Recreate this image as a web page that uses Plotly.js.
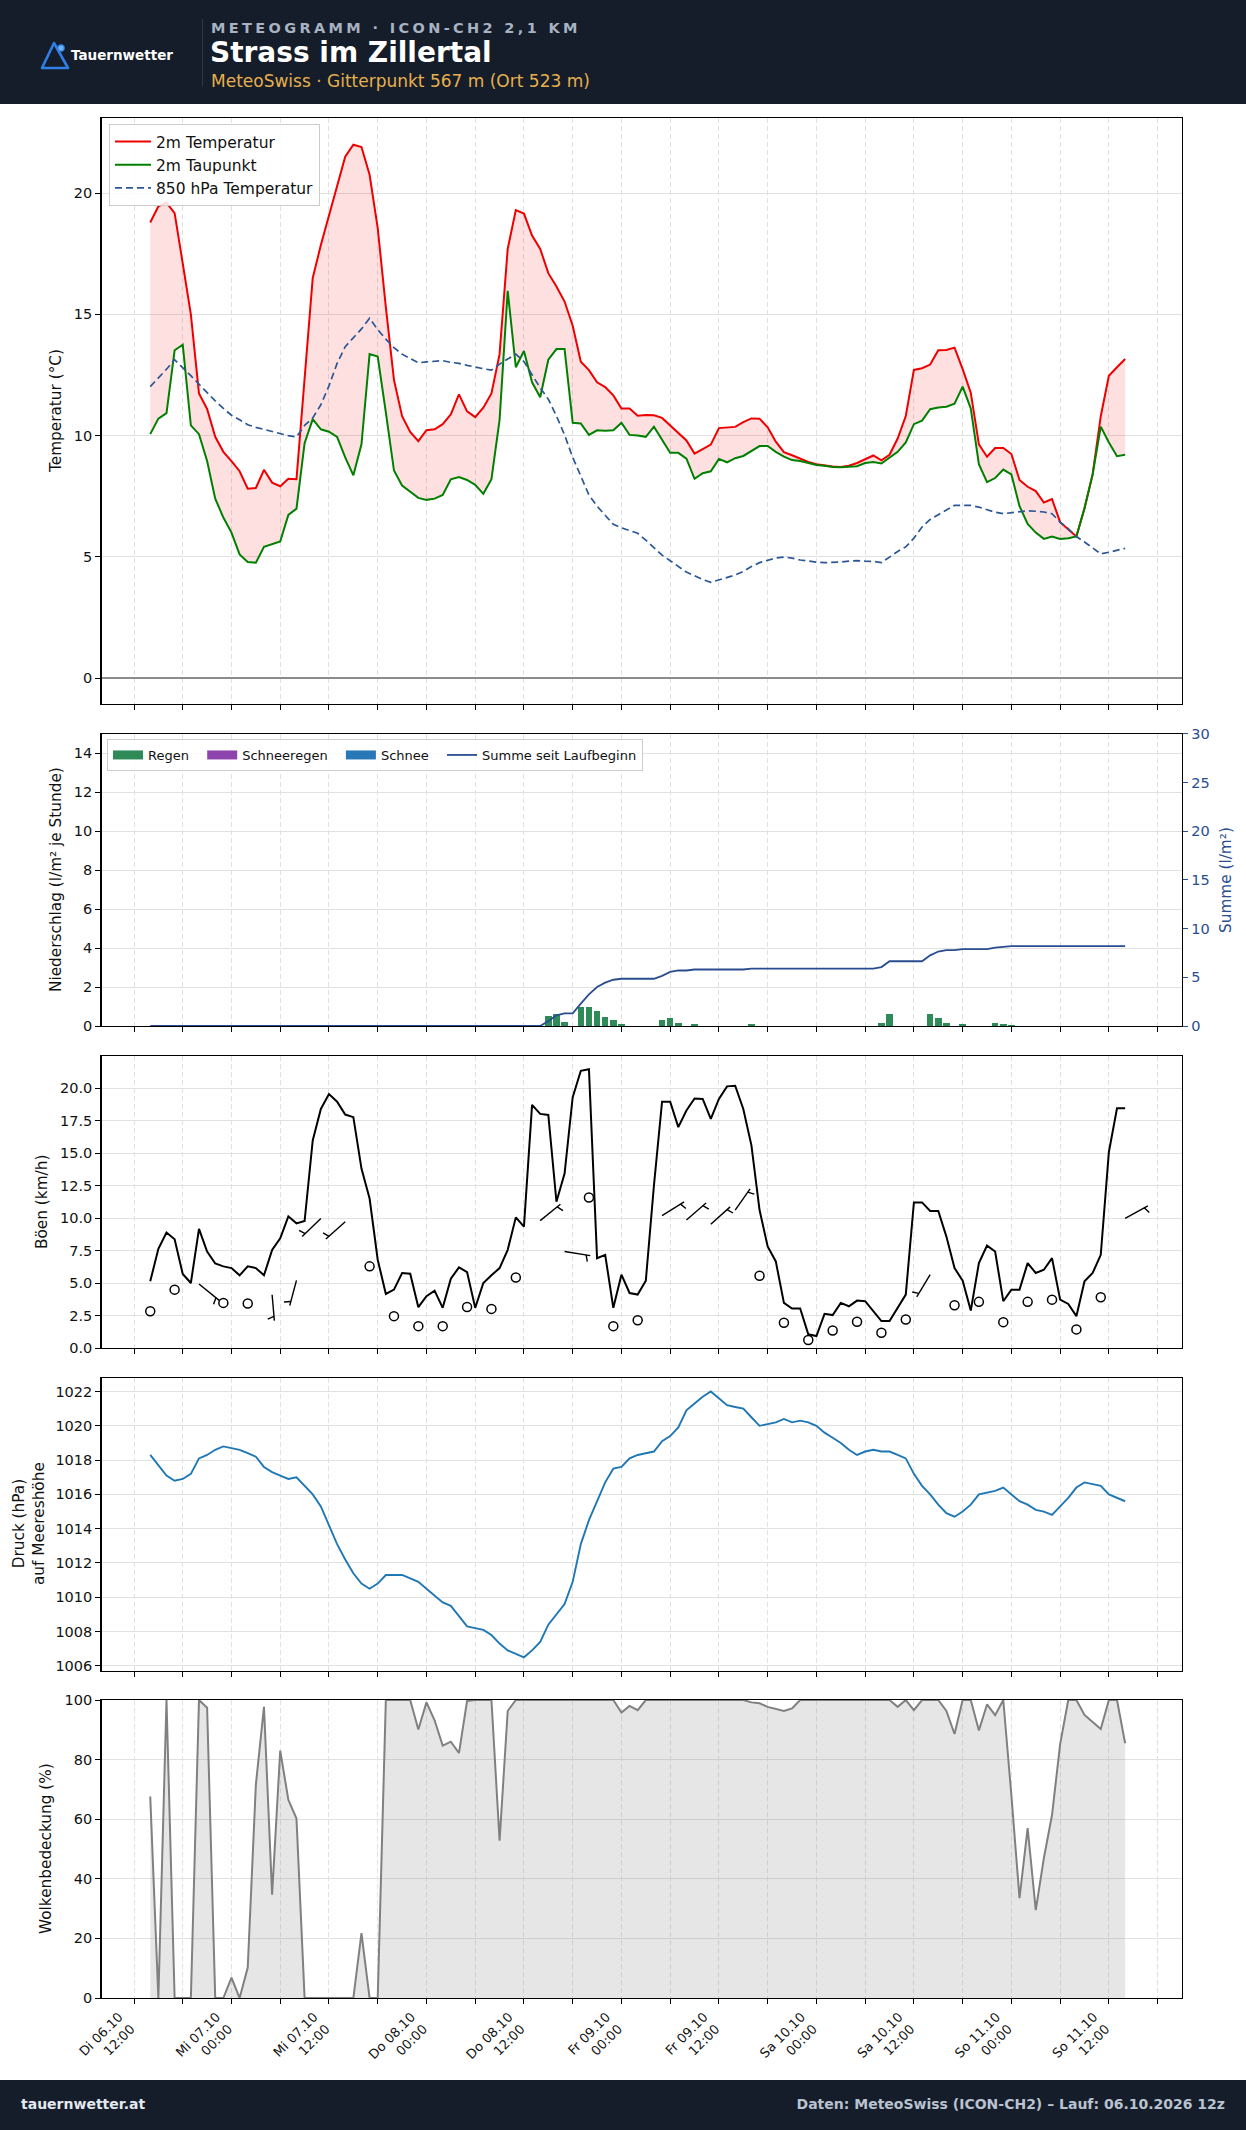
<!DOCTYPE html>
<html><head><meta charset="utf-8">
<script src="https://cdn.plot.ly/plotly-3.0.1.min.js"></script>
<style>
body{margin:0;padding:0;width:1246px;height:2130px;position:relative;background:#fff;font-family:'DejaVu Sans',sans-serif;overflow:hidden}
#plot{position:absolute;left:0;top:0;width:1246px;height:2130px}
.band{position:absolute;left:0;width:1246px;background:#151d2a;z-index:5}
.t{position:absolute;white-space:nowrap;font-family:'DejaVu Sans',sans-serif}
</style></head><body>
<div id="plot"></div>
<div class="band" style="top:0;height:104px">
  <svg style="position:absolute;left:36px;top:38px" width="40" height="34" viewBox="0 0 40 34">
    <path d="M6 30 L18 5 L32 30 Z" fill="none" stroke="#2f7fe6" stroke-width="2.6" stroke-linejoin="round"/>
    <circle cx="25" cy="10" r="3.2" fill="#6fb0f5" stroke="#2f7fe6" stroke-width="1.2"/>
  </svg>
  <div class="t" style="left:71px;top:47px;font-size:13.5px;font-weight:bold;color:#ffffff">Tauernwetter</div>
  <div style="position:absolute;left:202px;top:19px;width:1px;height:67px;background:#2c3848"></div>
  <div class="t" style="left:211px;top:20px;font-size:14.5px;font-weight:bold;letter-spacing:3.35px;color:#a7b2c2">METEOGRAMM · ICON-CH2 2,1 KM</div>
  <div class="t" style="left:210px;top:36px;font-size:28px;font-weight:bold;color:#ffffff">Strass im Zillertal</div>
  <div class="t" style="left:211px;top:71px;font-size:17px;color:#e6b04d">MeteoSwiss · Gitterpunkt 567 m (Ort 523 m)</div>
</div>
<div class="band" style="top:2080px;height:50px">
  <div class="t" style="left:21px;top:16px;font-size:14px;font-weight:bold;color:#e4e9f0">tauernwetter.at</div>
  <div class="t" style="right:21px;top:16px;font-size:14px;font-weight:bold;color:#b8c2d0">Daten: MeteoSwiss (ICON-CH2) – Lauf: 06.10.2026 12z</div>
</div>
<script>
// ---------- DATA (hourly, 06.10.2026 14:00 to 11.10.2026 14:00) ----------
const t2m = [
18.79,19.46,19.61,19.18,17.1,15.0,11.74,11.1,9.95,9.33,
8.95,8.53,7.81,7.84,8.59,8.06,7.91,8.22,8.2,12.2,
16.5,17.86,19.05,20.26,21.5,22.0,21.9,20.76,18.56,15.3,
12.3,10.8,10.15,9.77,10.22,10.26,10.47,10.88,11.7,11.0,
10.76,11.15,11.74,13.36,17.7,19.3,19.16,18.25,17.7,16.7,
16.15,15.53,14.53,13.05,12.7,12.2,12.0,11.66,11.12,11.12,
10.82,10.85,10.84,10.73,10.42,10.11,9.8,9.26,9.44,9.63,
10.31,10.33,10.36,10.56,10.71,10.7,10.34,9.75,9.32,9.19,
9.05,8.91,8.82,8.76,8.73,8.71,8.76,8.87,9.02,9.18,
8.98,9.21,9.88,10.81,12.71,12.78,12.93,13.52,13.53,13.63,
12.74,11.77,9.64,9.13,9.49,9.49,9.24,8.17,7.89,7.71,
7.24,7.38,6.43,6.12,5.84,7.0,8.4,10.8,12.47,12.82,13.16];

const td2m = [
10.06,10.7,10.93,13.52,13.75,10.42,10.06,8.95,7.4,6.62,
6.0,5.1,4.79,4.76,5.41,5.53,5.63,6.73,6.99,9.69,
10.68,10.26,10.16,9.95,9.1,8.36,9.64,13.36,13.26,10.96,
8.56,7.94,7.7,7.43,7.35,7.4,7.55,8.2,8.29,8.17,
7.97,7.6,8.2,10.65,15.97,12.82,13.49,12.2,11.58,13.13,
13.57,13.57,10.53,10.5,10.03,10.22,10.2,10.22,10.53,10.03,
10.0,9.95,10.37,9.83,9.29,9.29,9.05,8.22,8.45,8.53,
9.04,8.9,9.07,9.16,9.36,9.57,9.57,9.33,9.13,8.99,
8.95,8.87,8.79,8.76,8.71,8.7,8.71,8.74,8.87,8.91,
8.85,9.1,9.33,9.72,10.47,10.62,11.09,11.16,11.19,11.32,
12.02,11.12,8.82,8.08,8.25,8.6,8.4,7.09,6.36,6.0,
5.74,5.84,5.74,5.77,5.84,7.0,8.4,10.37,9.72,9.15,9.21];

const t850 = [
12.02,12.36,12.74,13.13,12.82,12.47,12.12,11.77,11.43,11.12,
10.84,10.65,10.45,10.34,10.25,10.16,10.08,10.0,9.95,10.42,
10.73,11.27,12.05,12.98,13.67,14.03,14.4,14.84,14.37,13.98,
13.63,13.36,13.18,13.0,13.04,13.05,13.09,13.02,12.98,12.9,
12.82,12.76,12.7,12.95,13.16,13.36,13.05,12.51,11.97,11.5,
10.81,10.03,9.1,8.33,7.55,7.09,6.7,6.34,6.2,6.08,
5.97,5.69,5.38,5.07,4.84,4.6,4.37,4.22,4.06,3.95,
4.05,4.14,4.25,4.4,4.6,4.76,4.87,4.95,4.99,4.95,
4.87,4.81,4.78,4.76,4.76,4.79,4.82,4.84,4.82,4.81,
4.76,4.99,5.22,5.41,5.77,6.23,6.54,6.74,6.93,7.12,
7.12,7.12,7.05,6.93,6.84,6.78,6.82,6.88,6.9,6.88,
6.85,6.78,6.43,6.16,5.84,5.61,5.38,5.12,5.19,5.26,5.35];

const rain = [
0,0,0,0,0,0,0,0,0,0,
0,0,0,0,0,0,0,0,0,0,
0,0,0,0,0,0,0,0,0,0,
0,0,0,0,0,0,0,0,0,0,
0,0,0,0,0,0,0,0,0,0.5,
0.6,0.2,0,1.0,0.95,0.75,0.45,0.3,0.1,0,
0,0,0,0.3,0.4,0.15,0,0.1,0,0,
0,0,0,0,0.1,0,0,0,0,0,
0,0,0,0,0,0,0,0,0,0,
0.15,0.6,0,0,0,0,0.6,0.4,0.15,0,
0.1,0,0,0,0.15,0.1,0.05,0,0,0,
0,0,0,0,0,0,0,0,0,0,0];
const sleet = rain.map(() => 0);
const snow = rain.map(() => 0);

const gusts = [
5.13,7.63,8.88,8.37,5.69,5.0,9.16,7.42,6.5,6.28,
6.15,5.59,6.28,6.15,5.59,7.55,8.44,10.13,9.59,9.77,
15.97,18.39,19.54,18.95,17.96,17.76,13.8,11.5,6.79,4.16,
4.49,5.77,5.71,3.14,3.98,4.41,3.09,5.33,6.2,5.84,
3.09,5.0,5.59,6.15,7.55,10.05,9.34,18.7,18.01,17.93,
11.25,13.42,19.29,21.33,21.45,6.91,7.17,3.09,5.64,4.23,
4.11,5.18,12.5,18.95,18.95,16.99,18.27,19.2,19.16,17.63,
19.16,20.13,20.18,18.39,15.59,10.61,7.81,6.66,3.47,3.04,
3.04,1.05,0.92,2.63,2.53,3.47,3.21,3.65,3.6,2.83,
2.07,2.07,3.09,4.11,11.2,11.2,10.54,10.54,8.57,6.15,
5.18,2.88,6.53,7.88,7.42,3.6,4.49,4.49,6.53,5.77,
6.02,6.91,3.72,3.39,2.45,5.13,5.77,7.17,15.08,18.44,18.44];

// wind every 3 hours: mean speed (km/h) and direction (deg, null = calm circle)
const windHour = [0,3,6,9,12,15,18,21,24,27,30,33,36,39,42,45,48,51,54,57,60,63,66,69,72,75,78,81,84,87,90,93,96,99,102,105,108,111,114,117,120];
const windSpeed = [2.83,4.49,4.92,3.47,3.42,4.1,5.2,9.97,9.72,6.28,2.45,1.68,1.68,3.16,3.01,5.43,9.8,7.42,11.58,1.68,2.14,10.18,9.85,9.52,10.61,5.56,1.94,0.61,1.35,2.02,1.17,2.19,5.64,3.29,3.55,1.99,3.55,3.72,1.43,3.9,9.97];
const windDir = [null,null,129,null,null,175,195,226,228,null,null,null,null,null,null,null,51,99,null,null,null,58,49,48,35,null,null,null,null,null,null,null,211,null,null,null,null,null,null,null,61];

const pressure = [
1018.3,1017.7,1017.1,1016.8,1016.9,1017.2,1018.1,1018.3,1018.6,1018.8,
1018.7,1018.6,1018.4,1018.2,1017.6,1017.3,1017.1,1016.9,1017.0,1016.5,
1016.0,1015.3,1014.2,1013.1,1012.2,1011.4,1010.8,1010.5,1010.8,1011.3,
1011.3,1011.3,1011.1,1010.9,1010.5,1010.1,1009.7,1009.5,1008.9,1008.3,
1008.2,1008.1,1007.8,1007.3,1006.9,1006.7,1006.5,1006.9,1007.4,1008.4,
1009.0,1009.6,1010.9,1013.1,1014.5,1015.6,1016.7,1017.5,1017.6,1018.1,
1018.3,1018.4,1018.5,1019.1,1019.4,1019.9,1020.9,1021.3,1021.7,1022.0,
1021.6,1021.2,1021.1,1021.0,1020.5,1020.0,1020.1,1020.2,1020.4,1020.2,
1020.3,1020.2,1020.0,1019.6,1019.3,1019.0,1018.6,1018.3,1018.5,1018.6,
1018.5,1018.5,1018.3,1018.1,1017.2,1016.5,1016.0,1015.4,1014.9,1014.7,
1015.0,1015.4,1016.0,1016.1,1016.2,1016.4,1016.0,1015.6,1015.4,1015.1,
1015.0,1014.8,1015.3,1015.8,1016.4,1016.7,1016.6,1016.5,1016.0,1015.8,1015.6];

const cloud = [
67.6,0,100,0,0,0,100,97.4,0,0,
6.8,0,10.2,71.6,97.7,34.7,83,66.5,60.2,0,
0,0,0,0,0,0,21.8,0,0,100,
100,100,100,90.1,99.2,93.2,84.7,86,82.2,99.7,
100,100,100,52.8,96.3,100,100,100,100,100,
100,100,100,100,100,100,100,100,95.8,98,
96.6,100,100,100,100,100,100,100,100,100,
100,100,100,100,99.2,98.9,97.7,96.9,96.3,97.2,
100,100,100,100,100,100,100,100,100,100,
100,100,97.7,100,96.6,100,100,100,96.3,88.6,
100,100,89.8,98.5,94.9,100,68,33.5,57,29.5,
47,61.4,85.2,100,100,95,92.6,90.3,100,100,85.5];

const dayNames = ['Di','Mi','Do','Fr','Sa','So'];
const precipNames = ['Regen', 'Schneeregen', 'Schnee'];
const precipColors = ['#2e8b57', '#8e44ad', '#2878b8'];

// ---------- TIME AXIS ----------
const H = 3600e3;
const T0 = Date.UTC(2026, 9, 6, 14);
const times = t2m.map((_, i) => T0 + i * H);
const XR = [Date.UTC(2026, 9, 6, 8), Date.UTC(2026, 9, 11, 21)];
const tickvals = [], ticktext = [];
for (let t = Date.UTC(2026, 9, 6, 12); t <= Date.UTC(2026, 9, 11, 18); t += 6 * H) {
  const d = new Date(t);
  tickvals.push(t);
  if (d.getUTCHours() % 12 === 0) {
    const dd = String(d.getUTCDate()).padStart(2, '0');
    const mm = String(d.getUTCMonth() + 1).padStart(2, '0');
    const hh = String(d.getUTCHours()).padStart(2, '0');
    ticktext.push(dayNames[d.getUTCDate() - 6] + ' ' + dd + '.' + mm + '<br>' + hh + ':00');
  } else ticktext.push('');
}
const summe = []; rain.reduce((a, v, i) => (summe[i] = +(a + v).toFixed(2)), 0);

// ---------- GEOMETRY (pixels) ----------
const W = 1246, HT = 2130;
const XL = 101.5, XRp = 1182;
const P = [[118, 704], [733.8, 1026], [1055.8, 1348], [1377.8, 1671], [1700, 1998]];
const dom = p => [1 - p[1] / HT, 1 - p[0] / HT];
const Y3R = [0, 22.48];
const PAD = '\u00a0\u00a0';

const GRID = '#e1e1e1';
function xax(i, labels) {
  return {
    type: 'date', range: XR, domain: [XL / W, XRp / W], anchor: 'y' + (i === 1 ? '' : i),
    tickmode: 'array', tickvals: tickvals, ticktext: labels ? ticktext : tickvals.map(() => ''),
    showticklabels: labels, tickangle: -45, tickfont: {size: 13, color: '#111'}, ticklabelshift: -15,
    ticks: 'outside', ticklen: 5, tickwidth: 1, tickcolor: '#000',
    showgrid: true, gridcolor: GRID, griddash: '5px,3px', gridwidth: 1,
    showline: true, linecolor: '#000', linewidth: 1.3, mirror: true, zeroline: false
  };
}
function yax(i, extra) {
  return Object.assign({
    domain: dom(P[i - 1]), anchor: 'x' + (i === 1 ? '' : i),
    ticks: 'outside', ticklen: 5, tickwidth: 1, tickcolor: '#000',
    tickfont: {size: 14.5, color: '#111'},
    showgrid: true, gridcolor: GRID, gridwidth: 1,
    showline: true, linecolor: '#000', linewidth: 1.3, mirror: true, zeroline: false
  }, extra);
}

// ---------- WIND BARBS (built through the axis scales) ----------
const pxPerMs = (XRp - XL) / (XR[1] - XR[0]);
const pxPerKmh = (P[2][1] - P[2][0]) / (Y3R[1] - Y3R[0]);
const SHAFT = 26, TICK = 6.5;
const bx = [], by = [], cx = [], cy = [];
windHour.forEach((h, k) => {
  const t = times[h], v = windSpeed[k], d = windDir[k];
  if (d === null) { cx.push(t); cy.push(v); return; }
  const r = d * Math.PI / 180;
  const sx = Math.sin(r), sy = -Math.cos(r);          // screen vector (y down)
  const toX = px => px / pxPerMs, toY = py => -py / pxPerKmh;
  bx.push(t, t + toX(SHAFT * sx), null);
  by.push(v, v + toY(SHAFT * sy), null);
  const f = 0.84, px0 = SHAFT * f * sx, py0 = SHAFT * f * sy;
  const qx = px0 + TICK * (-sy) + 2.2 * sx, qy = py0 + TICK * sx + 2.2 * sy;
  bx.push(t + toX(px0), t + toX(qx), null);
  by.push(v + toY(py0), v + toY(qy), null);
});

// ---------- TRACES ----------
const traces = [
  {x: times, y: td2m, xaxis: 'x', yaxis: 'y', mode: 'lines', line: {width: 0, color: 'rgba(0,0,0,0)'}, showlegend: false, hoverinfo: 'skip'},
  {x: times, y: t2m, xaxis: 'x', yaxis: 'y', mode: 'lines', line: {width: 0, color: 'rgba(0,0,0,0)'}, fill: 'tonexty', fillcolor: 'rgba(255,0,0,0.12)', showlegend: false, hoverinfo: 'skip'},
  {x: times, y: t2m, xaxis: 'x', yaxis: 'y', mode: 'lines', name: '2m Temperatur', line: {color: '#ee0000', width: 2}, legendrank: 1},
  {x: times, y: td2m, xaxis: 'x', yaxis: 'y', mode: 'lines', name: '2m Taupunkt', line: {color: '#008000', width: 2}, legendrank: 2},
  {x: times, y: t850, xaxis: 'x', yaxis: 'y', mode: 'lines', name: '850 hPa Temperatur', line: {color: '#2b5797', width: 1.7, dash: '7px,4px'}, legendrank: 3}
];
[rain, sleet, snow].forEach((arr, k) => {
  traces.push({x: times, y: arr, xaxis: 'x2', yaxis: 'y2', type: 'bar', name: precipNames[k],
    marker: {color: precipColors[k], line: {width: 0}}, width: 0.8 * H, showlegend: false});
  // legend swatch (wide patch like the original)
  traces.push({x: [null], y: [null], xaxis: 'x2', yaxis: 'y2', mode: 'lines', name: precipNames[k] + PAD,
    line: {color: precipColors[k], width: 9}, legend: 'legend2', legendrank: k + 1});
});
traces.push(
  {x: times, y: summe, xaxis: 'x2', yaxis: 'y6', mode: 'lines', name: 'Summe seit Laufbeginn', line: {color: '#2a4d8f', width: 1.8}, legend: 'legend2', legendrank: 4},

  {x: times, y: gusts, xaxis: 'x3', yaxis: 'y3', mode: 'lines', line: {color: '#000', width: 2}, showlegend: false},
  {x: bx, y: by, xaxis: 'x3', yaxis: 'y3', mode: 'lines', line: {color: '#000', width: 1.4}, showlegend: false, connectgaps: false},
  {x: cx, y: cy, xaxis: 'x3', yaxis: 'y3', mode: 'markers', marker: {symbol: 'circle', size: 9, color: '#fff', line: {color: '#000', width: 1.5}}, showlegend: false},

  {x: times, y: pressure, xaxis: 'x4', yaxis: 'y4', mode: 'lines', line: {color: '#1f77b4', width: 1.9}, showlegend: false},

  {x: times, y: cloud, xaxis: 'x5', yaxis: 'y5', mode: 'lines', line: {color: '#808080', width: 2}, fill: 'tozeroy', fillcolor: 'rgba(128,128,128,0.2)', showlegend: false}
);

const TF = 15.3;
const ann = (text, xpx, ypx, extra) => Object.assign({text, xref: 'paper', yref: 'paper', x: xpx / W, y: 1 - ypx / HT,
  xanchor: 'center', yanchor: 'middle', showarrow: false, textangle: -90, font: {size: TF, color: '#111'}}, extra);

const layout = {
  width: W, height: HT, margin: {l: 0, r: 0, t: 0, b: 0},
  paper_bgcolor: '#fff', plot_bgcolor: '#fff',
  font: {family: 'DejaVu Sans, sans-serif', size: 14, color: '#111'},
  barmode: 'stack', bargap: 0,
  xaxis: xax(1, false), xaxis2: xax(2, false), xaxis3: xax(3, false), xaxis4: xax(4, false), xaxis5: xax(5, true),
  yaxis: yax(1, {range: [-1.07, 23.1], tickvals: [0, 5, 10, 15, 20], zeroline: true, zerolinecolor: '#8c8c8c', zerolinewidth: 1.2}),
  yaxis2: yax(2, {range: [0, 15], tickvals: [0, 2, 4, 6, 8, 10, 12, 14]}),
  yaxis6: {overlaying: 'y2', anchor: 'x2', side: 'right', range: [0, 30], tickvals: [0, 5, 10, 15, 20, 25, 30],
    ticks: 'outside', ticklen: 5, tickcolor: '#2a4d8f', tickfont: {size: 14.5, color: '#2a4d8f'}, showgrid: false,
    showline: true, linecolor: '#000', linewidth: 1.3, zeroline: false},
  yaxis3: yax(3, {range: Y3R, tickvals: [0, 2.5, 5, 7.5, 10, 12.5, 15, 17.5, 20], tickformat: '.1f'}),
  yaxis4: yax(4, {range: [1005.7, 1022.8], tickvals: [1006, 1008, 1010, 1012, 1014, 1016, 1018, 1020, 1022]}),
  yaxis5: yax(5, {range: [0, 100], tickvals: [0, 20, 40, 60, 80, 100]}),
  legend: {x: 109 / W, y: 1 - 124 / HT, xanchor: 'left', yanchor: 'top', bgcolor: 'rgba(255,255,255,0.85)',
    bordercolor: '#cccccc', borderwidth: 1, font: {size: 15.5, color: '#111'}, traceorder: 'normal', tracegroupgap: 0, itemwidth: 36},
  legend2: {x: 107 / W, y: 1 - 739 / HT, xanchor: 'left', yanchor: 'top', orientation: 'h', traceorder: 'normal', bgcolor: 'rgba(255,255,255,0.85)',
    bordercolor: '#cccccc', borderwidth: 1, font: {size: 13, color: '#111'}},
  annotations: [
    ann('Temperatur (°C)', 56, 411),
    ann('Niederschlag (l/m² je Stunde)', 56, 880),
    ann('Summe (l/m²)', 1226, 880, {font: {size: TF, color: '#2a4d8f'}}),
    ann('Böen (km/h)', 42, 1202),
    ann('Druck (hPa)<br>auf Meereshöhe', 29, 1524),
    ann('Wolkenbedeckung (%)', 46, 1849)
  ]
};

Plotly.newPlot('plot', traces, layout, {staticPlot: true, displayModeBar: false});
</script>
</body></html>
